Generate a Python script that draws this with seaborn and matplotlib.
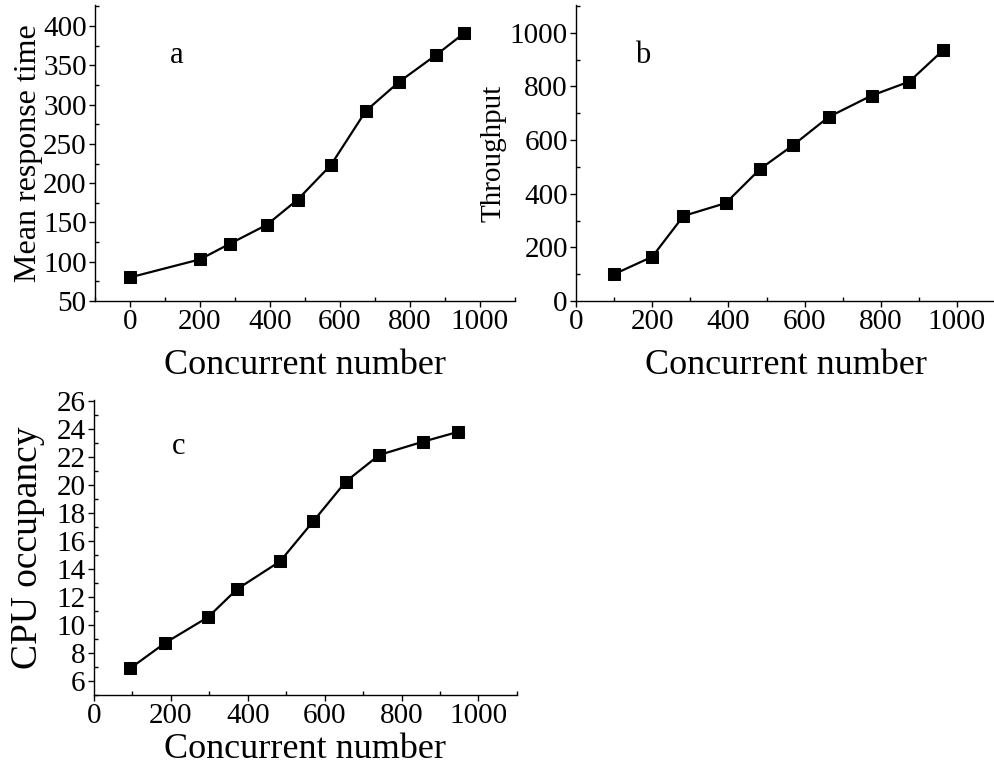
import numpy as np
import pandas as pd
import matplotlib
matplotlib.use("Agg")
import matplotlib.pyplot as plt
from matplotlib.ticker import MultipleLocator
import seaborn as sns

# panel a: mean response time
resp_x = [0, 200, 286, 391, 479, 574, 674, 769, 874, 955]
resp_y = [80, 103, 123, 147, 179, 223, 292, 329, 363, 391]

# panel b: throughput
thr_x = [100, 200, 282, 393, 483, 569, 663, 776, 875, 963]
thr_y = [100, 165, 317, 365, 492, 580, 686, 766, 818, 934]

# panel c: cpu occupancy
cpu_x = [94, 185, 297, 372, 484, 570, 655, 742, 856, 947]
cpu_y = [6.9, 8.72, 10.57, 12.56, 14.55, 17.4, 20.25, 22.15, 23.1, 23.8]

sns.set_style("ticks")
plt.rcParams['font.family'] = ['Liberation Serif', 'DejaVu Serif']
plt.rcParams.update({
    'text.color': 'black',
    'axes.labelcolor': 'black',
    'xtick.color': 'black',
    'ytick.color': 'black',
})


def draw_panel(ax, x, y, ylabel, ylabel_size, ylabelpad, letter, letter_pos, xlim, ylim, ymajor, yminor, xlabelpad):
    """Draws one of the three small line panels"""
    df = pd.DataFrame({"x": x, "y": y})
    sns.lineplot(data=df, x="x", y="y", ax=ax, color="black", linewidth=1.6,
                 marker="s", markersize=9, markeredgecolor="black", markerfacecolor="black")
    ax.set_xlim(*xlim)
    ax.set_ylim(*ylim)
    ax.xaxis.set_major_locator(MultipleLocator(200))
    ax.xaxis.set_minor_locator(MultipleLocator(100))
    ax.yaxis.set_major_locator(MultipleLocator(ymajor))
    ax.yaxis.set_minor_locator(MultipleLocator(yminor))
    ax.tick_params(which="major", direction="out", length=4, width=1, labelsize=21, pad=2, colors="black")
    ax.tick_params(which="minor", direction="in", length=3, width=1, colors="black")
    sns.despine(ax=ax)
    for s in ["left", "bottom"]:
        ax.spines[s].set_linewidth(1.0)
        ax.spines[s].set_color("black")
    ax.set_xlabel("Concurrent number", fontsize=26, labelpad=xlabelpad, color="black")
    ax.set_ylabel(ylabel, fontsize=ylabel_size, labelpad=ylabelpad, color="black")
    ax.text(letter_pos[0], letter_pos[1], letter, transform=ax.transAxes, fontsize=22,
            ha="center", va="center", color="black")


fig = plt.figure(figsize=(9.95, 7.67), dpi=100)
ax_a = fig.add_axes([0.0955, 0.6076, 0.422, 0.386])
ax_b = fig.add_axes([0.579, 0.6076, 0.421, 0.386])
ax_c = fig.add_axes([0.0945, 0.0939, 0.425, 0.385])

draw_panel(ax_a, resp_x, resp_y, "Mean response time", 23, 0, "a", (0.195, 0.83),
           (-100, 1100), (50, 427), 50, 25, 10)
draw_panel(ax_b, thr_x, thr_y, "Throughput", 21, 2, "b", (0.16, 0.83),
           (0, 1100), (0, 1104), 200, 100, 10)
draw_panel(ax_c, cpu_x, cpu_y, "CPU occupancy", 27, 8, "c", (0.2, 0.84),
           (0, 1100), (5, 26.1), 2, 1, 3)

fig.savefig("out.png", dpi=100)
